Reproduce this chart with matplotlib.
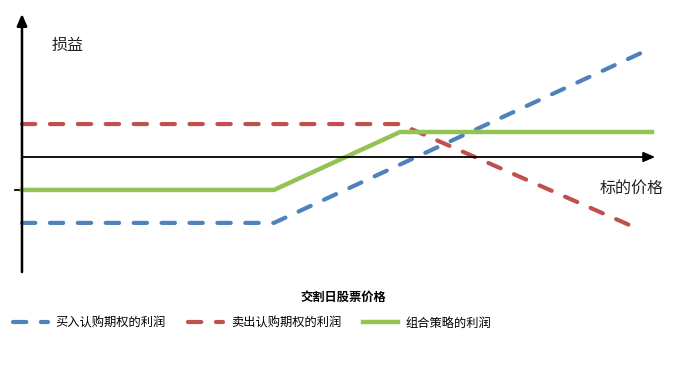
import matplotlib.pyplot as plt

plt.rcParams['font.family'] = ['Noto Sans CJK SC', 'DejaVu Sans']

# 标的价格 / 损益
buy_x = [0, 40, 100]
buy_y = [-23.2, -23.2, 38.4]
sell_x = [0, 60, 97.5]
sell_y = [11.6, 11.6, -25.0]
combo_x = [0, 40, 60, 100]
combo_y = [-11.6, -11.6, 8.8, 8.8]

labels = ['买入认购期权的利润', '卖出认购期权的利润', '组合策略的利润']
colors = ['#4f81bd', '#c0504d', '#92c353']

fig = plt.figure(figsize=(6.87, 3.66), dpi=100)
ax = fig.add_axes([0, 0, 1, 1])
ax.set_xlim(-3.49, 105.56)
ax.set_ylim(-73.59, 55.28)
ax.axis('off')

# 坐标轴
ax.annotate('', xy=(0, 50.4), xytext=(0, -40.5),
            arrowprops=dict(arrowstyle='-|>,head_length=0.7,head_width=0.3',
                            color='black', lw=1.8, shrinkA=0, shrinkB=0))
ax.annotate('', xy=(100.5, 0), xytext=(0, 0),
            arrowprops=dict(arrowstyle='-|>,head_length=0.7,head_width=0.3',
                            color='black', lw=1.3, shrinkA=0, shrinkB=0))
ax.plot([-1.1, 0], [-11.6, -11.6], color='black', lw=1.3)

l1, = ax.plot(buy_x, buy_y, color=colors[0], lw=3, dashes=(3.2, 3.5),
              dash_capstyle='round', label=labels[0])
l2, = ax.plot(sell_x, sell_y, color=colors[1], lw=3, dashes=(3.2, 3.5),
              dash_capstyle='round', label=labels[1])
l3, = ax.plot(combo_x, combo_y, color=colors[2], lw=3.2, label=labels[2])

ax.text(7.3, 39.4, '损益', fontsize=11.5, ha='center', va='center', color='#222222')
ax.text(96.8, -10.9, '标的价格', fontsize=11.5, ha='center', va='center', color='#222222')

fig.text(0.5, 1 - 297 / 366, '交割日股票价格', fontsize=8.8, fontweight='bold',
         ha='center', va='center')
fig.legend(handles=[l1, l2, l3], loc='center left',
           bbox_to_anchor=(8 / 687, 1 - 323 / 366), borderaxespad=0,
           ncol=3, frameon=False, fontsize=8.8, handlelength=2.9,
           handletextpad=0.6, columnspacing=1.8)

plt.savefig('out.png', dpi=100)
